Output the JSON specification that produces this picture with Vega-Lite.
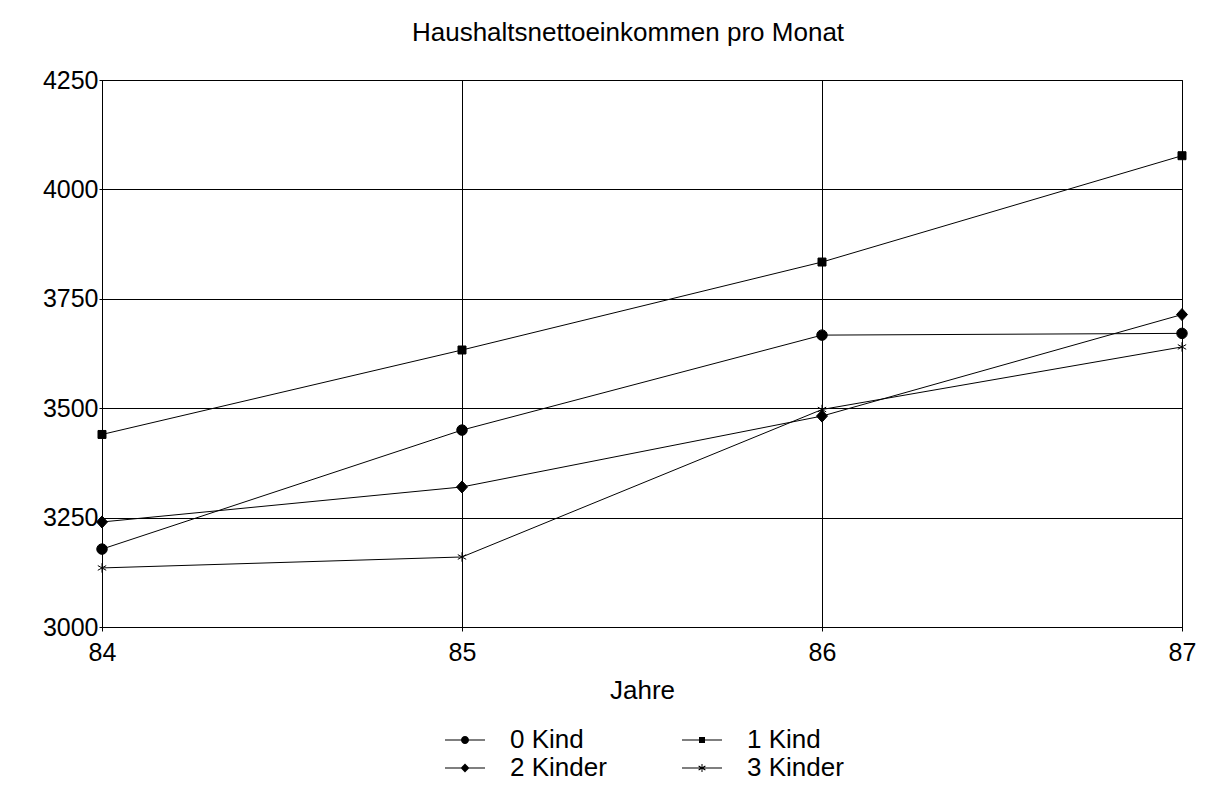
{
  "$schema": "https://vega.github.io/schema/vega-lite/v6.json",
  "autosize": {"type": "none"},
  "width": 1080,
  "height": 547,
  "padding": {"left": 102, "top": 80, "right": 24, "bottom": 166},
  "background": "white",
  "title": {
    "text": "Haushaltsnettoeinkommen pro Monat",
    "fontSize": 26,
    "fontWeight": "normal",
    "font": "Liberation Sans",
    "color": "black",
    "anchor": "middle",
    "frame": "group",
    "baseline": "alphabetic",
    "offset": 1,
    "dx": -14
  },
  "data": {
    "values": [
      {"jahr": 84, "gruppe": "0 Kind", "wert": 3178},
      {"jahr": 85, "gruppe": "0 Kind", "wert": 3450},
      {"jahr": 86, "gruppe": "0 Kind", "wert": 3667},
      {"jahr": 87, "gruppe": "0 Kind", "wert": 3671},
      {"jahr": 84, "gruppe": "1 Kind", "wert": 3440},
      {"jahr": 85, "gruppe": "1 Kind", "wert": 3633},
      {"jahr": 86, "gruppe": "1 Kind", "wert": 3834},
      {"jahr": 87, "gruppe": "1 Kind", "wert": 4077},
      {"jahr": 84, "gruppe": "2 Kinder", "wert": 3240},
      {"jahr": 85, "gruppe": "2 Kinder", "wert": 3320},
      {"jahr": 86, "gruppe": "2 Kinder", "wert": 3482},
      {"jahr": 87, "gruppe": "2 Kinder", "wert": 3714},
      {"jahr": 84, "gruppe": "3 Kinder", "wert": 3135},
      {"jahr": 85, "gruppe": "3 Kinder", "wert": 3160},
      {"jahr": 86, "gruppe": "3 Kinder", "wert": 3497},
      {"jahr": 87, "gruppe": "3 Kinder", "wert": 3640}
    ]
  },
  "encoding": {
    "x": {
      "field": "jahr",
      "type": "quantitative",
      "scale": {"domain": [84, 87], "nice": false, "zero": false},
      "axis": {
        "values": [84, 85, 86, 87],
        "format": "d",
        "title": "Jahre",
        "labelFlush": false,
        "tickSize": 4,
        "labelPadding": 9,
        "titlePadding": 12
      }
    },
    "y": {
      "field": "wert",
      "type": "quantitative",
      "scale": {"domain": [3000, 4250], "nice": false, "zero": false},
      "axis": {
        "values": [3000, 3250, 3500, 3750, 4000, 4250],
        "format": "d",
        "title": null,
        "labelFlush": false,
        "tickSize": 3,
        "labelPadding": 1
      }
    }
  },
  "layer": [
    {
      "mark": {"type": "line", "color": "black", "strokeWidth": 1},
      "encoding": {"detail": {"field": "gruppe"}}
    },
    {
      "mark": {"type": "point", "filled": true, "fill": "black", "stroke": "black", "strokeWidth": 1, "opacity": 1, "size": 110},
      "encoding": {
        "shape": {
          "field": "gruppe",
          "type": "nominal",
          "legend": null,
          "scale": {
            "domain": ["0 Kind", "1 Kind", "2 Kinder", "3 Kinder"],
            "range": [
              "circle",
              "M-0.76,-0.76L0.76,-0.76L0.76,0.76L-0.76,0.76Z",
              "M0,-1.15L1.05,0L0,1.15L-1.05,0Z",
              "M0,-0.9L0,0.9M-0.8,-0.45L0.8,0.45M-0.8,0.45L0.8,-0.45"
            ]
          }
        }
      }
    },
    {
      "transform": [{"filter": "datum.wert < 0"}],
      "mark": {"type": "point", "filled": true, "color": "black", "opacity": 1},
      "encoding": {
        "shape": {
          "field": "gruppe",
          "type": "nominal",
          "title": null,
          "scale": {
            "domain": ["0 Kind", "1 Kind", "2 Kinder", "3 Kinder"],
            "range": [
              "M-1,-0.025L1,-0.025L1,0.025L-1,0.025ZM-0.2,0A0.2,0.2,0,1,1,0.2,0A0.2,0.2,0,1,1,-0.2,0Z",
              "M-1,-0.025L1,-0.025L1,0.025L-1,0.025ZM-0.15,-0.15L0.15,-0.15L0.15,0.15L-0.15,0.15Z",
              "M-1,-0.025L1,-0.025L1,0.025L-1,0.025ZM0,-0.22L0.22,0L0,0.22L-0.22,0Z",
              "M-1,-0.025L1,-0.025L1,0.025L-1,0.025ZM-0.025,-0.2L0.025,-0.2L0.025,0.2L-0.025,0.2ZM-0.1827,-0.0784L-0.1573,-0.1216L0.1827,0.0784L0.1573,0.1216ZM-0.1573,0.1216L-0.1827,0.0784L0.1573,-0.1216L0.1827,-0.0784Z"
            ]
          },
          "legend": {
            "orient": "none",
            "legendX": 342,
            "legendY": 646,
            "direction": "horizontal",
            "columns": 2,
            "padding": 0,
            "symbolSize": 1600,
            "symbolOpacity": 1,
            "clipHeight": 28,
            "labelFontSize": 26,
            "labelFont": "Liberation Sans",
            "labelColor": "black",
            "labelOffset": 24,
            "columnPadding": 74,
            "rowPadding": 0
          }
        }
      }
    }
  ],
  "resolve": {"scale": {"shape": "independent"}},
  "config": {
    "font": "Liberation Sans",
    "view": {"stroke": "black", "strokeWidth": 1},
    "axis": {
      "labelFont": "Liberation Sans",
      "labelFontSize": 25,
      "labelColor": "black",
      "titleFont": "Liberation Sans",
      "titleFontSize": 26,
      "titleFontWeight": "normal",
      "titleColor": "black",
      "domainColor": "black",
      "tickColor": "black",
      "grid": true,
      "gridColor": "black",
      "gridOpacity": 1,
      "gridWidth": 1
    }
  }
}
